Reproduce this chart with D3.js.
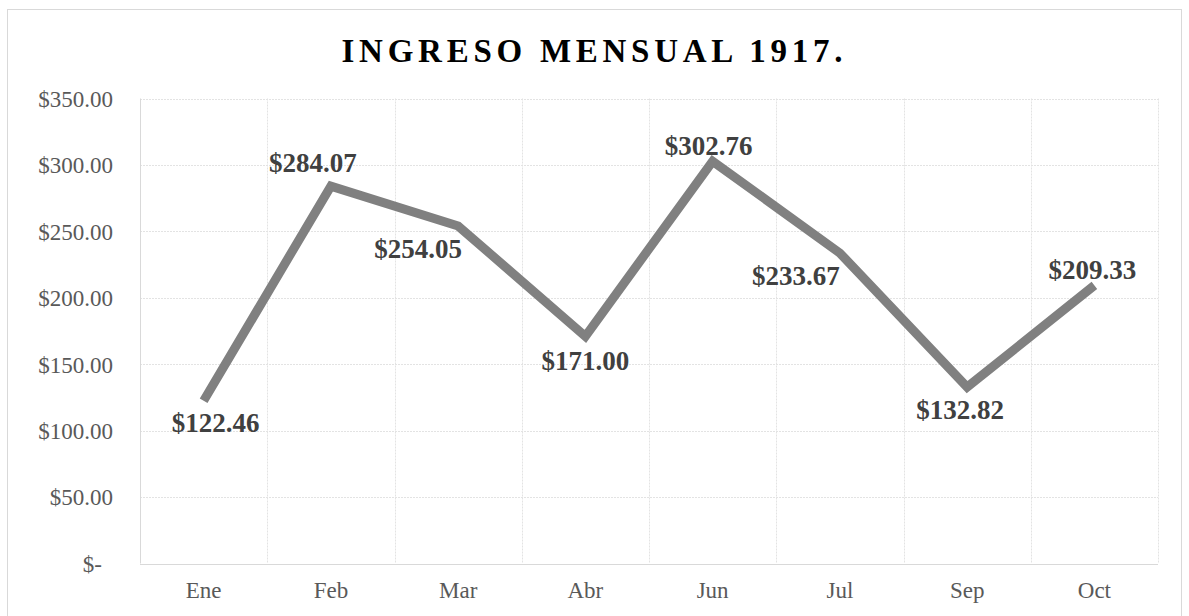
<!DOCTYPE html>
<html>
<head>
<meta charset="utf-8">
<script src="https://cdn.jsdelivr.net/npm/d3@7"></script>
<style>
  body { margin: 0; background: #fff; }
  svg { display: block; }
  text { font-family: "Liberation Serif", "Times New Roman", serif; }
</style>
</head>
<body>
<div id="chart"></div>
<script>
// data
const months = ["Ene", "Feb", "Mar", "Abr", "Jun", "Jul", "Sep", "Oct"];
const income = [122.46, 284.07, 254.05, 171.00, 302.76, 233.67, 132.82, 209.33];
const yTicks = [0, 50, 100, 150, 200, 250, 300, 350];
const title = "INGRESO MENSUAL 1917.";

// label placement (pixel offsets from the point), kept apart from data
const labelOffsets = [[12, 31], [-18, -14], [-40, 32], [0, 34], [-4, -6], [-44, 32], [-7, 32], [-2, -6]];

const width = 1189, height = 616;
const plot = {left: 140, right: 1158, top: 98.5, bottom: 563.5};

const svg = d3.select('#chart').append('svg')
    .attr('width', width)
    .attr('height', height);

// chart frame
svg.append('rect')
    .attr('x', 7.5).attr('y', 9.5)
    .attr('width', 1174).attr('height', 620)
    .attr('fill', '#fff')
    .attr('stroke', '#d9d9d9');

const x = d3.scaleBand()
    .domain(months)
    .range([plot.left, plot.right]);

const y = d3.scaleLinear()
    .domain([0, 350])
    .range([plot.bottom, plot.top]);

const fmt = d3.format(",.2f");
function money(v) {
    return v === 0 ? "$-" : "$" + fmt(v);
}

// horizontal gridlines
svg.append('g')
    .selectAll('line')
    .data(yTicks.filter(d => d > 0))
    .join('line')
    .attr('x1', plot.left).attr('x2', plot.right)
    .attr('y1', d => Math.round(y(d)) + 0.5)
    .attr('y2', d => Math.round(y(d)) + 0.5)
    .attr('stroke', '#e3e3e3')
    .attr('stroke-dasharray', '2,1');

// vertical gridlines at category boundaries
const bounds = months.map(m => x(m)).concat([plot.right]);
svg.append('g')
    .selectAll('line')
    .data(bounds.slice(1))
    .join('line')
    .attr('x1', d => Math.round(d) + 0.5).attr('x2', d => Math.round(d) + 0.5)
    .attr('y1', plot.top).attr('y2', plot.bottom)
    .attr('stroke', '#e3e3e3')
    .attr('stroke-dasharray', '2,1');

// solid axis lines
svg.append('line')
    .attr('x1', plot.left + 0.5).attr('x2', plot.left + 0.5)
    .attr('y1', plot.top).attr('y2', plot.bottom)
    .attr('stroke', '#d9d9d9');
svg.append('line')
    .attr('x1', plot.left).attr('x2', plot.right)
    .attr('y1', Math.round(y(0)) + 0.5).attr('y2', Math.round(y(0)) + 0.5)
    .attr('stroke', '#d9d9d9');

// y axis labels
const yAxis = d3.axisLeft(y)
    .tickValues(yTicks)
    .tickSize(0)
    .tickPadding(27)
    .tickFormat(money);

const gy = svg.append('g')
    .attr('transform', `translate(${plot.left},0)`)
    .call(yAxis);
gy.select('.domain').remove();
gy.selectAll('text')
    .attr('font-family', '"Liberation Serif", serif')
    .attr('font-size', 23)
    .attr('fill', '#595959')
    .attr('dy', '0.34em')
    .attr('dx', d => d === 0 ? -11 : 0);

// x axis labels
const xAxis = d3.axisBottom(x)
    .tickSize(0)
    .tickPadding(18);

const gx = svg.append('g')
    .attr('transform', `translate(0,${plot.bottom})`)
    .call(xAxis);
gx.select('.domain').remove();
gx.selectAll('text')
    .attr('font-family', '"Liberation Serif", serif')
    .attr('font-size', 23)
    .attr('fill', '#595959');

// the line
const pts = months.map((m, i) => ({month: m, value: income[i]}));
const line = d3.line()
    .x(d => x(d.month) + x.bandwidth() / 2)
    .y(d => y(d.value));

svg.append('path')
    .datum(pts)
    .attr('d', line)
    .attr('fill', 'none')
    .attr('stroke', '#808080')
    .attr('stroke-width', 9)
    .attr('stroke-linejoin', 'miter')
    .attr('stroke-linecap', 'butt');

// data labels
svg.append('g')
    .selectAll('text')
    .data(pts)
    .join('text')
    .attr('x', (d, i) => x(d.month) + x.bandwidth() / 2 + labelOffsets[i][0])
    .attr('y', (d, i) => y(d.value) + labelOffsets[i][1])
    .attr('text-anchor', 'middle')
    .attr('font-size', 27)
    .attr('font-weight', 'bold')
    .attr('fill', '#404040')
    .text(d => money(d.value));

// title, spaced out to the width it has in the reference
const t = svg.append('text')
    .attr('x', 592)
    .attr('y', 62)
    .attr('text-anchor', 'middle')
    .attr('font-size', 33)
    .attr('font-weight', 'bold')
    .attr('fill', '#000')
    .text(title);
const natural = t.node().getComputedTextLength();
const spacing = (501 - natural) / (title.length - 1);
t.attr('letter-spacing', spacing)
    .attr('x', 592 + spacing / 2);
</script>
</body>
</html>
